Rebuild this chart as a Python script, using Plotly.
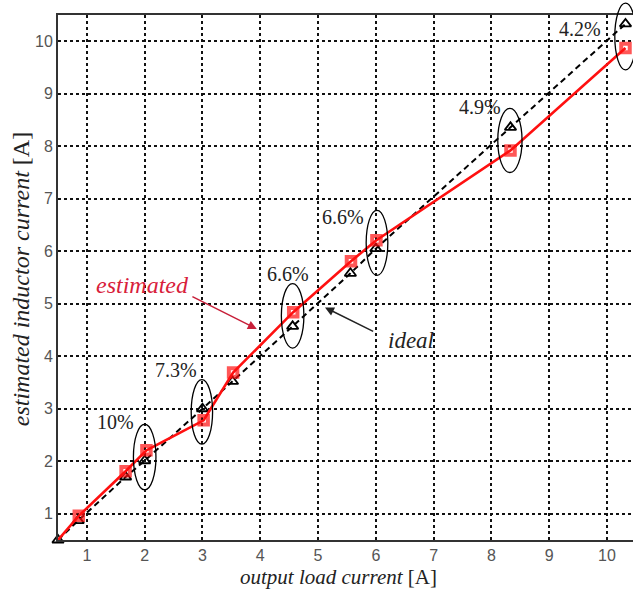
import plotly.graph_objects as go

# ---- data ----
ideal_x = [0.5, 0.85, 1.67, 2.0, 3.0, 3.52, 4.56, 5.56, 6.0, 8.33, 10.32]
ideal_y = [0.5, 0.87, 1.70, 2.01, 3.0, 3.52, 4.57, 5.58, 6.05, 8.36, 10.33]
est_x = [0.5, 0.86, 1.67, 2.03, 3.02, 3.53, 4.57, 5.57, 6.01, 8.33, 10.32]
est_y = [0.5, 0.96, 1.81, 2.21, 2.78, 3.69, 4.84, 5.81, 6.21, 7.92, 9.87]
x_ticks = [1, 2, 3, 4, 5, 6, 7, 8, 9, 10]
y_ticks = [1, 2, 3, 4, 5, 6, 7, 8, 9, 10]
err_labels = ["10%", "7.3%", "6.6%", "6.6%", "4.9%", "4.2%"]
err_label_x = [1.49, 2.55, 4.48, 5.43, 7.80, 9.53]
err_label_y = [2.74, 3.74, 5.57, 6.66, 8.75, 10.23]
ell_cx = [2.0, 2.99, 4.56, 6.02, 8.32, 10.32]
ell_cy = [2.08, 2.94, 4.77, 6.16, 8.11, 10.09]
ell_w = [0.39, 0.37, 0.39, 0.375, 0.42, 0.37]
ell_h = [1.25, 1.23, 1.23, 1.24, 1.22, 1.27]

XR = [0.5, 10.45]
YR = [0.5, 10.5]

def px(v):
    return (v - XR[0]) / (XR[1] - XR[0])

def py(v):
    return (v - YR[0]) / (YR[1] - YR[0])

fig = go.Figure()

fig.add_trace(go.Scatter(
    x=ideal_x, y=ideal_y, mode="lines+markers", name="ideal",
    line=dict(color="black", width=2, dash="6px,4px"),
    marker=dict(symbol="triangle-up-open", size=10, color="black",
                line=dict(width=1.8, color="black")),
    cliponaxis=False,
))
est_sizes = [0] + [8.5] * (len(est_x) - 1)
fig.add_trace(go.Scatter(
    x=est_x, y=est_y, mode="lines+markers", name="estimated",
    line=dict(color="#ff1010", width=2.6),
    marker=dict(symbol="square-open", size=est_sizes, color="#ff1010",
                line=dict(width=4, color="#ff1010")),
    cliponaxis=False,
))

shapes = []
for cx, cy, w, h in zip(ell_cx, ell_cy, ell_w, ell_h):
    shapes.append(dict(
        type="circle", xref="paper", yref="paper",
        x0=px(cx - w / 2), x1=px(cx + w / 2),
        y0=py(cy - h / 2), y1=py(cy + h / 2),
        line=dict(color="black", width=1.3), layer="above",
    ))

annotations = []
for t, x, y in zip(err_labels, err_label_x, err_label_y):
    annotations.append(dict(
        x=x, y=y, xref="x", yref="y", text=t, showarrow=False,
        font=dict(family="Liberation Serif", size=20, color="#222"),
    ))

annotations.append(dict(
    x=1.97, y=5.36, xref="x", yref="y", text="<i>estimated</i>", showarrow=False,
    font=dict(family="Liberation Serif", size=24, color="#d8203a"),
))
annotations.append(dict(
    x=3.94, y=4.52, xref="x", yref="y", ax=2.80, ay=5.15, axref="x", ayref="y",
    text="", showarrow=True, arrowhead=2, arrowsize=1.2, arrowwidth=1.5,
    arrowcolor="#c8203a",
))
annotations.append(dict(
    x=6.61, y=4.30, xref="x", yref="y", text="<i>ideal</i>", showarrow=False,
    font=dict(family="Liberation Serif", size=23, color="#222"),
))
annotations.append(dict(
    x=5.12, y=4.93, xref="x", yref="y", ax=5.98, ay=4.46, axref="x", ayref="y",
    text="", showarrow=True, arrowhead=2, arrowsize=1.2, arrowwidth=1.5,
    arrowcolor="#222",
))

# axis titles
annotations.append(dict(
    x=0.487, y=-0.0705, xref="paper", yref="paper",
    text="<i>output load current</i> [A]", showarrow=False,
    xanchor="center", yanchor="middle",
    font=dict(family="Liberation Serif", size=21, color="#222"),
))
annotations.append(dict(
    x=-0.064, y=0.497, xref="paper", yref="paper",
    text="<i>estimated inductor current</i> [A]", showarrow=False,
    textangle=-90, xanchor="center", yanchor="middle",
    font=dict(family="Liberation Serif", size=24, color="#222"),
))

fig.update_layout(
    width=633, height=591,
    margin=dict(l=58, r=0, t=15, b=51),
    plot_bgcolor="white", paper_bgcolor="white",
    showlegend=False,
    shapes=shapes, annotations=annotations,
    xaxis=dict(
        range=XR, tickvals=x_ticks, ticktext=[str(v) for v in x_ticks],
        showgrid=True, gridcolor="#111", gridwidth=1.5, griddash="3px,3px",
        showline=True, linecolor="#333", linewidth=1.8, mirror=True,
        ticks="", zeroline=False,
        tickfont=dict(family="Liberation Sans", size=16, color="#555"),
    ),
    yaxis=dict(
        range=YR, tickvals=y_ticks, ticktext=[str(v) for v in y_ticks],
        showgrid=True, gridcolor="#111", gridwidth=1.5, griddash="3px,3px",
        showline=True, linecolor="#333", linewidth=1.8, mirror=False,
        ticks="", zeroline=False,
        tickfont=dict(family="Liberation Sans", size=16, color="#555"),
    ),
)

fig.write_html("out.html")
